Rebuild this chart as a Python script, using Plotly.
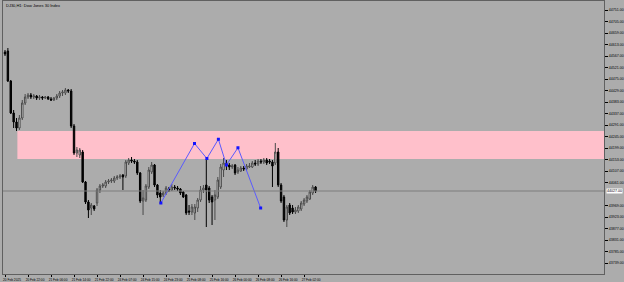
import plotly.graph_objects as go

title_text = "DJ30,H1: Dow Jones 30 Index"

opens = [44583,44587,44467,44339,44303,44279,44319,44379,44403,44411,44403,44407,44399,44403,44399,44403,44395,44391,44399,44407,
         44419,44419,44431,44427,44287,44179,44171,44183,44063,43983,43959,43967,43979,44031,44047,44047,44063,44067,44067,44079,
         44083,44091,44087,44139,44151,44147,44143,44099,43987,43991,44043,44103,44131,44051,44019,44011,44019,44035,44031,44043,
         44039,44035,44023,44011,43947,43943,43939,43959,43991,44031,44051,44039,44003,43991,44003,44043,44111,44139,44131,44123,
         44131,44103,44107,44119,44115,44123,44123,44139,44135,44147,44143,44151,44147,44143,44139,44183,44051,44003,43911,43971,
         43959,43943,43947,43955,43975,43987,43995,44019,44043]
highs = [44591,44599,44471,44351,44319,44331,44391,44415,44419,44419,44415,44411,44411,44407,44407,44407,44403,44403,44415,44427,
         44431,44439,44435,44435,44295,44203,44199,44191,44067,43991,43979,43971,44039,44055,44059,44071,44075,44079,44087,44091,
         44095,44095,44151,44159,44163,44155,44151,44103,44031,44055,44123,44143,44135,44055,44031,44027,44047,44043,44055,44051,
         44047,44039,44027,44015,43971,43975,43975,43999,44047,44051,44155,44047,44011,44031,44083,44135,44159,44151,44139,44135,
         44135,44123,44127,44127,44135,44139,44147,44151,44155,44155,44159,44159,44155,44151,44219,44199,44059,44011,43971,43979,
         43971,43963,43971,43987,43999,44011,44031,44051,44047]
lows = [44567,44463,44335,44279,44267,44271,44311,44371,44395,44395,44395,44391,44391,44391,44395,44391,44387,44387,44391,44399,
        44407,44411,44419,44279,44171,44163,44159,44059,43975,43919,43931,43947,43967,44019,44039,44039,44055,44059,44059,44071,
        44075,44031,44079,44131,44139,44135,44091,43979,43931,43983,44035,44095,44043,43999,43975,44003,44011,44023,44027,44031,
        44027,44011,43999,43931,43931,43931,43911,43943,43983,44019,43883,43979,43891,43911,43995,44035,44083,44111,44111,44115,
        44091,44095,44103,44107,44107,44119,44119,44127,44127,44135,44135,44131,44135,44043,44131,44043,43979,43903,43883,43931,
        43935,43935,43939,43947,43967,43979,43991,44011,44019]
closes = [44575,44467,44339,44303,44279,44319,44379,44403,44411,44403,44407,44399,44403,44399,44403,44395,44391,44399,44407,44419,
          44423,44431,44427,44287,44179,44191,44191,44063,43983,43951,43971,43955,44031,44047,44051,44063,44067,44071,44079,44083,
          44087,44083,44143,44151,44147,44143,44099,43987,43999,44047,44111,44131,44051,44011,44003,44019,44039,44031,44043,44039,
          44035,44019,44003,43939,43943,43963,43963,43991,44031,44039,44031,43991,43983,44011,44071,44123,44139,44131,44123,44127,
          44099,44111,44119,44115,44127,44127,44139,44135,44147,44143,44151,44139,44143,44127,44183,44051,43987,43911,43963,43939,
          43943,43951,43963,43979,43991,44003,44023,44043,44027]
bars = list(range(len(opens)))

zig_x = [54.2, 65.9, 70.2, 74.2, 77.0, 81.0, 88.9]
zig_y = [43979, 44217, 44157, 44234, 44131, 44200, 43959]

zone_top = 44267
zone_bottom = 44155
zone_start = 4.3
current_price = 44027

ytick_vals = [44751, 44705, 44659, 44613, 44567, 44521, 44475, 44429, 44383, 44337, 44291, 44245,
              44199, 44153, 44107, 44061, 43969, 43923, 43877, 43831, 43785, 43739]
xtick_vals = [0, 8, 16, 24, 32, 40, 48, 56, 64, 72, 80, 88, 96, 104]
xtick_text = ["20 Feb 2025", "20 Feb 22:00", "21 Feb 06:00", "21 Feb 14:00", "21 Feb 22:00", "24 Feb 07:00",
              "24 Feb 15:00", "24 Feb 23:00", "25 Feb 08:00", "25 Feb 16:00", "26 Feb 00:00", "26 Feb 08:00",
              "26 Feb 16:00", "27 Feb 02:00"]

BG = "#acacac"
fig = go.Figure()
fig.add_shape(type="rect", xref="x", yref="y", x0=zone_start, x1=208.3, y0=zone_bottom, y1=zone_top,
              fillcolor="#ffc0cb", line=dict(width=0), layer="below")
fig.add_shape(type="line", xref="paper", yref="y", x0=0, x1=1, y0=current_price, y1=current_price,
              line=dict(color="#7c7c7c", width=1))
fig.add_trace(go.Candlestick(
    x=bars, open=opens, high=highs, low=lows, close=closes,
    increasing=dict(fillcolor="#eeeeee", line=dict(color="#4a4a4a", width=1)),
    decreasing=dict(fillcolor="#000000", line=dict(color="#000000", width=1)),
    whiskerwidth=0, showlegend=False, hoverinfo="skip"))
fig.add_trace(go.Scatter(x=zig_x, y=zig_y, mode="lines+markers",
                         line=dict(color="#5a5aff", width=1),
                         marker=dict(color="#1414ff", size=3, symbol="square"),
                         showlegend=False, hoverinfo="skip"))

fig.add_annotation(xref="paper", yref="y", x=1.004, y=current_price, xanchor="left", yanchor="middle",
                   text=f"{current_price:.2f}", showarrow=False, bgcolor="#ffffff",
                   font=dict(size=3.6, color="#000000", family="Liberation Sans"), borderpad=0)
fig.add_annotation(xref="paper", yref="paper", x=0.002, y=0.999, xanchor="left", yanchor="top",
                   text=title_text, showarrow=False,
                   font=dict(size=4, color="#000000", family="Liberation Sans"))

fig.update_layout(
    width=624, height=282, margin=dict(l=3, r=20, t=1, b=8),
    paper_bgcolor=BG, plot_bgcolor=BG,
    font=dict(family="Liberation Sans", size=3.6, color="#000000"),
    xaxis=dict(range=[-0.7, 208.3], rangeslider=dict(visible=False), showgrid=False, zeroline=False,
               tickvals=xtick_vals, ticktext=xtick_text, ticks="outside", ticklen=2, tickcolor="#000000",
               tickangle=0, ticklabelshift=7, ticklabelstandoff=0, automargin=False,
               tickfont=dict(size=3.2),
               showline=True, linecolor="#606060", linewidth=1, mirror=True, fixedrange=True),
    yaxis=dict(range=[43695, 44787], side="right", showgrid=False, zeroline=False,
               tickvals=ytick_vals, tickformat=".2f", ticks="outside", ticklen=3, tickcolor="#000000",
               ticklabelstandoff=0, automargin=False, tickfont=dict(size=3.6),
               showline=True, linecolor="#606060", linewidth=1, mirror=True, fixedrange=True),
)
fig.write_html("out.html")
